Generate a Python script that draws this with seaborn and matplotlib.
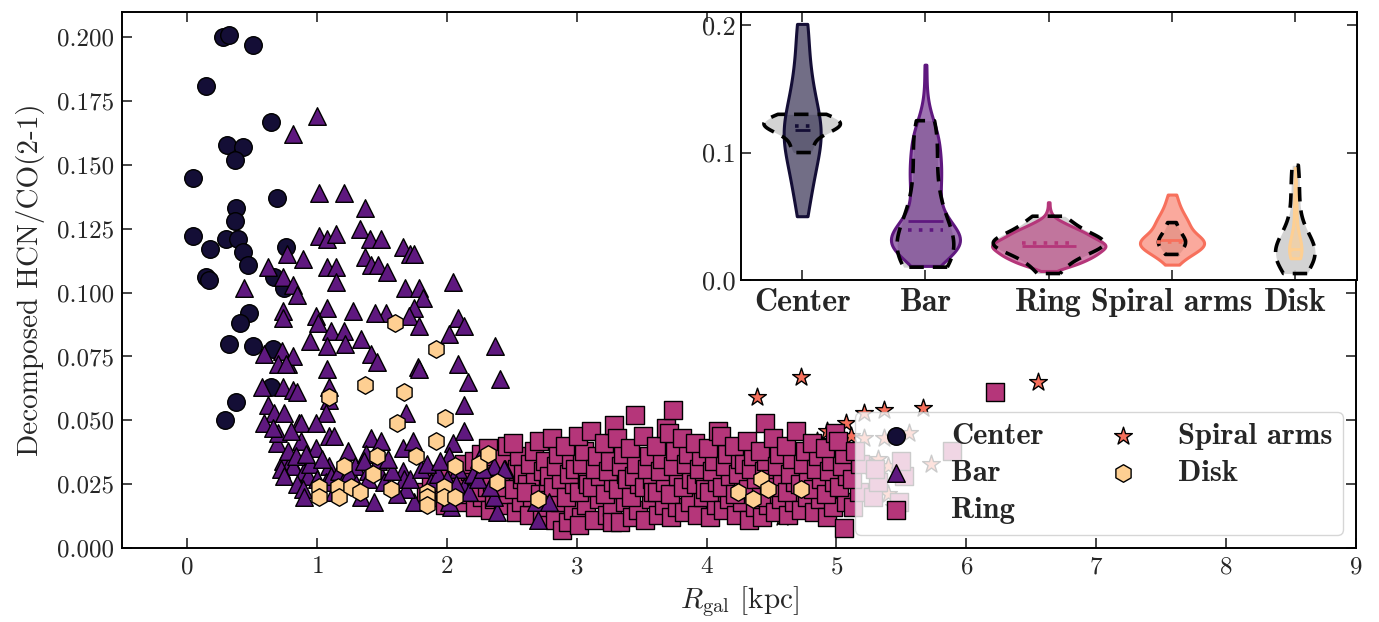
import numpy as np
import pandas as pd
import matplotlib
matplotlib.use("Agg")
import matplotlib.pyplot as plt
import seaborn as sns
from matplotlib.collections import PolyCollection
from matplotlib.font_manager import FontProperties
from matplotlib.colors import to_rgba

# ---------------- data ----------------
categories = ["Center", "Bar", "Ring", "Spiral arms", "Disk"]

center_pts = [
    (0.28, 0.200), (0.32, 0.201), (0.51, 0.197), (0.15, 0.181), (0.65, 0.167),
    (0.05, 0.145), (0.31, 0.158), (0.43, 0.157), (0.37, 0.152), (0.69, 0.137),
    (0.38, 0.133), (0.37, 0.128), (0.05, 0.122), (0.18, 0.117), (0.30, 0.121),
    (0.39, 0.121), (0.43, 0.116), (0.47, 0.111), (0.15, 0.106), (0.17, 0.105),
    (0.76, 0.118), (0.67, 0.106), (0.75, 0.102), (0.48, 0.092), (0.41, 0.088),
    (0.32, 0.080), (0.51, 0.079), (0.66, 0.078), (0.65, 0.063), (0.38, 0.057),
    (0.29, 0.050),
]

bar_pts = [
    (1.00, 0.169), (0.82, 0.162), (1.02, 0.139), (1.21, 0.139), (1.37, 0.133),
    (1.33, 0.125), (1.02, 0.122), (1.08, 0.121), (1.15, 0.123), (1.41, 0.121),
    (1.49, 0.121), (1.66, 0.118), (1.72, 0.115), (1.75, 0.115), (1.37, 0.114),
    (1.42, 0.111), (1.47, 0.111), (1.54, 0.108), (1.08, 0.110), (1.15, 0.110),
    (1.15, 0.104), (0.77, 0.115), (0.89, 0.113), (0.62, 0.110), (0.74, 0.106),
    (0.82, 0.103), (0.44, 0.102), (1.68, 0.102), (1.79, 0.102), (0.85, 0.099),
    (1.82, 0.098), (2.05, 0.104), (1.75, 0.094), (1.71, 0.091), (1.79, 0.087),
    (2.09, 0.090), (2.13, 0.087), (2.02, 0.084), (2.37, 0.079), (2.09, 0.072),
    (1.53, 0.092), (1.45, 0.092), (1.28, 0.093), (1.08, 0.094), (0.99, 0.091),
    (1.01, 0.088), (0.74, 0.093), (0.74, 0.090), (1.11, 0.085), (1.21, 0.085),
    (1.34, 0.082), (0.95, 0.081), (1.08, 0.079), (1.22, 0.080), (1.42, 0.076),
    (1.46, 0.073), (1.08, 0.070), (0.59, 0.076), (0.73, 0.077), (0.78, 0.072),
    (0.82, 0.075), (1.78, 0.071), (1.79, 0.070), (2.16, 0.065), (2.41, 0.066),
    (0.70, 0.072), (0.76, 0.072), (0.58, 0.063), (0.74, 0.063), (0.82, 0.062),
    (0.85, 0.061), (0.62, 0.056), (0.67, 0.053), (0.75, 0.053), (0.86, 0.049),
    (0.88, 0.049), (0.59, 0.049), (1.09, 0.063), (1.09, 0.058), (1.07, 0.053),
    (0.99, 0.049), (1.69, 0.053), (2.13, 0.056), (0.69, 0.041), (0.88, 0.042),
    (0.99, 0.039), (1.09, 0.044), (1.13, 0.044), (1.24, 0.038), (1.42, 0.043),
    (1.49, 0.042), (1.66, 0.039), (1.74, 0.042), (2.05, 0.041), (2.13, 0.046),
    (2.02, 0.036), (0.74, 0.034), (0.80, 0.034), (0.82, 0.032), (0.72, 0.031),
    (0.75, 0.028), (0.90, 0.030), (0.93, 0.028), (0.85, 0.025), (0.89, 0.023),
    (0.90, 0.020), (1.09, 0.032), (1.07, 0.026), (1.11, 0.028), (1.29, 0.032),
    (1.39, 0.030), (1.39, 0.027), (1.47, 0.031), (1.34, 0.020), (1.44, 0.018),
    (1.66, 0.030), (1.67, 0.027), (1.75, 0.018), (1.69, 0.023), (2.09, 0.031),
    (2.13, 0.024), (2.03, 0.016), (2.20, 0.029), (2.39, 0.014), (2.45, 0.031),
    (2.70, 0.011), (2.36, 0.027), (1.38, 0.037), (1.36, 0.034), (1.47, 0.034),
    (1.98, 0.023), (2.02, 0.018), (1.17, 0.030), (2.36, 0.032), (2.44, 0.031),
    (2.36, 0.020), (2.69, 0.018), (2.79, 0.018),
    (0.78, 0.038), (0.84, 0.036), (0.95, 0.033), (1.00, 0.027), (1.04, 0.035),
    (1.13, 0.022), (1.20, 0.026), (1.25, 0.029), (1.30, 0.025), (1.52, 0.026),
    (1.58, 0.030), (1.62, 0.021), (1.72, 0.027), (1.80, 0.031), (1.88, 0.026),
    (1.93, 0.029), (2.00, 0.027), (2.07, 0.025), (2.17, 0.022), (2.24, 0.027),
    (2.28, 0.031), (2.33, 0.024), (0.70, 0.045), (0.66, 0.047), (0.80, 0.046),
    (0.92, 0.037), (1.55, 0.035), (1.85, 0.033), (2.25, 0.035), (1.95, 0.034),
]

ring_pts = [
    (1.84, 0.022), (1.88, 0.027),
    (1.93, 0.020), (1.97, 0.025), (1.95, 0.029), (1.99, 0.017),
    (2.03, 0.019), (2.07, 0.024), (2.02, 0.028), (2.08, 0.031), (2.05, 0.022),
    (2.12, 0.018), (2.17, 0.023), (2.14, 0.026), (2.18, 0.030), (2.13, 0.033), (2.16, 0.021),
    (2.22, 0.016), (2.27, 0.020), (2.24, 0.025), (2.28, 0.029), (2.21, 0.034), (2.26, 0.037), (2.23, 0.022),
    (2.33, 0.015), (2.36, 0.019), (2.31, 0.024), (2.38, 0.028), (2.34, 0.032), (2.37, 0.036), (2.32, 0.039), (2.35, 0.026),
    (2.43, 0.017), (2.47, 0.021), (2.42, 0.027), (2.48, 0.030), (2.44, 0.035), (2.46, 0.040), (2.41, 0.024),
    (2.53, 0.014), (2.57, 0.018), (2.52, 0.023), (2.58, 0.027), (2.54, 0.031), (2.56, 0.036), (2.51, 0.041), (2.59, 0.029),
    (2.63, 0.013), (2.66, 0.020), (2.62, 0.025), (2.68, 0.028), (2.64, 0.033), (2.67, 0.038), (2.61, 0.022),
    (2.73, 0.012), (2.77, 0.016), (2.72, 0.021), (2.78, 0.026), (2.74, 0.030), (2.76, 0.034), (2.71, 0.042), (2.79, 0.028),
    (2.83, 0.011), (2.87, 0.018), (2.82, 0.024), (2.88, 0.027), (2.84, 0.032), (2.86, 0.037), (2.81, 0.043), (2.89, 0.007),
    (2.93, 0.010), (2.97, 0.015), (2.92, 0.020), (2.98, 0.025), (2.94, 0.029), (2.96, 0.035), (2.91, 0.040), (2.99, 0.031),
    (3.03, 0.012), (3.07, 0.017), (3.02, 0.022), (3.08, 0.027), (3.04, 0.033), (3.06, 0.038), (3.01, 0.044), (3.09, 0.025), (3.02, 0.009),
    (3.13, 0.011), (3.17, 0.019), (3.12, 0.024), (3.18, 0.028), (3.14, 0.031), (3.16, 0.036), (3.11, 0.046),
    (3.23, 0.013), (3.27, 0.016), (3.22, 0.021), (3.28, 0.026), (3.24, 0.030), (3.26, 0.034), (3.21, 0.041), (3.29, 0.048), (3.27, 0.010),
    (3.33, 0.010), (3.37, 0.018), (3.32, 0.023), (3.38, 0.029), (3.34, 0.032), (3.36, 0.037), (3.31, 0.043), (3.39, 0.027),
    (3.43, 0.012), (3.47, 0.015), (3.42, 0.020), (3.48, 0.025), (3.44, 0.028), (3.46, 0.033), (3.41, 0.039), (3.45, 0.052),
    (3.53, 0.011), (3.57, 0.019), (3.52, 0.024), (3.58, 0.027), (3.54, 0.031), (3.56, 0.036), (3.51, 0.044), (3.59, 0.022),
    (3.63, 0.013), (3.67, 0.017), (3.62, 0.022), (3.68, 0.026), (3.64, 0.030), (3.66, 0.035), (3.61, 0.040), (3.69, 0.047),
    (3.73, 0.012), (3.77, 0.016), (3.72, 0.021), (3.78, 0.028), (3.74, 0.032), (3.76, 0.038), (3.74, 0.054), (3.71, 0.045),
    (3.83, 0.014), (3.87, 0.018), (3.82, 0.024), (3.88, 0.027), (3.84, 0.033), (3.86, 0.037), (3.81, 0.043),
    (3.93, 0.013), (3.97, 0.020), (3.92, 0.025), (3.98, 0.029), (3.94, 0.031), (3.96, 0.036), (3.91, 0.041), (3.99, 0.023),
    (4.03, 0.012), (4.07, 0.017), (4.02, 0.022), (4.08, 0.026), (4.04, 0.030), (4.06, 0.034), (4.01, 0.039), (4.09, 0.046),
    (4.13, 0.015), (4.17, 0.019), (4.12, 0.024), (4.18, 0.028), (4.14, 0.032), (4.16, 0.037), (4.11, 0.044),
    (4.23, 0.013), (4.27, 0.018), (4.22, 0.021), (4.28, 0.026), (4.24, 0.029), (4.26, 0.035), (4.21, 0.040), (4.29, 0.033),
    (4.33, 0.011), (4.37, 0.016), (4.32, 0.023), (4.38, 0.027), (4.34, 0.031), (4.36, 0.036), (4.31, 0.042),
    (4.43, 0.012), (4.47, 0.017), (4.42, 0.020), (4.48, 0.025), (4.44, 0.030), (4.46, 0.034), (4.41, 0.038), (4.45, 0.049),
    (4.53, 0.014), (4.57, 0.019), (4.52, 0.024), (4.58, 0.028), (4.54, 0.032), (4.56, 0.037), (4.51, 0.043),
    (4.63, 0.013), (4.67, 0.018), (4.62, 0.022), (4.68, 0.026), (4.64, 0.029), (4.66, 0.035), (4.61, 0.040), (4.69, 0.046),
    (4.73, 0.015), (4.77, 0.020), (4.72, 0.025), (4.78, 0.028), (4.74, 0.033), (4.76, 0.038),
    (4.83, 0.014), (4.87, 0.019), (4.82, 0.023), (4.88, 0.027), (4.84, 0.031), (4.86, 0.036), (4.81, 0.041),
    (4.93, 0.012), (4.97, 0.016), (4.92, 0.021), (4.98, 0.026), (4.94, 0.030), (4.96, 0.034), (4.91, 0.039), (4.99, 0.045),
    (5.06, 0.008), (5.07, 0.018), (5.02, 0.024), (5.08, 0.028), (5.04, 0.032), (5.06, 0.037), (5.01, 0.042),
    (5.13, 0.016), (5.17, 0.022), (5.12, 0.027), (5.18, 0.033), (5.14, 0.038),
    (5.28, 0.020), (5.32, 0.026), (5.30, 0.031),
    (5.48, 0.018), (5.52, 0.028), (5.50, 0.034),
    (5.89, 0.038), (6.22, 0.061),
]

spiral_pts = [
    (4.39, 0.059), (4.73, 0.067), (4.50, 0.045), (4.93, 0.046), (5.07, 0.049),
    (5.11, 0.044), (5.37, 0.054), (5.21, 0.053), (5.67, 0.055), (6.55, 0.065),
    (4.85, 0.042), (5.00, 0.037), (4.66, 0.021), (5.03, 0.020), (5.15, 0.035),
    (5.21, 0.043), (5.37, 0.043), (5.56, 0.045), (5.32, 0.035), (5.27, 0.032),
    (5.40, 0.032), (5.73, 0.033), (5.40, 0.021), (5.44, 0.016),
    (4.45, 0.028), (4.55, 0.024), (4.62, 0.031), (4.78, 0.027), (4.88, 0.025),
    (4.95, 0.030), (5.05, 0.028), (4.70, 0.018), (4.58, 0.012), (4.82, 0.034),
    (5.10, 0.026), (4.98, 0.022), (4.90, 0.029), (4.52, 0.030), (4.75, 0.026),
    (5.12, 0.031), (4.60, 0.027), (4.85, 0.028),
]

disk_pts = [
    (1.60, 0.088), (1.92, 0.078), (1.37, 0.064), (1.67, 0.061), (1.09, 0.059),
    (1.62, 0.049), (1.99, 0.051), (1.92, 0.042), (1.46, 0.036), (1.76, 0.036),
    (1.21, 0.032), (1.43, 0.029), (1.02, 0.024), (1.02, 0.020), (1.16, 0.024),
    (1.17, 0.020), (1.26, 0.024), (1.33, 0.022), (1.57, 0.023), (1.85, 0.022),
    (1.85, 0.020), (1.85, 0.017), (1.98, 0.024), (1.98, 0.020), (2.06, 0.020),
    (2.06, 0.032), (2.25, 0.033), (2.32, 0.037), (2.39, 0.026), (2.70, 0.019),
    (4.42, 0.027), (4.47, 0.023), (4.24, 0.022), (4.36, 0.019), (4.73, 0.023),
]

# comparison distributions (grey dashed violins in the inset)
center_cmp = [0.100, 0.104, 0.110, 0.114, 0.117, 0.119, 0.120, 0.121, 0.122,
              0.123, 0.124, 0.126, 0.128, 0.130, 0.130]
bar_cmp = [0.010, 0.011, 0.012, 0.014, 0.016, 0.018, 0.020, 0.022, 0.024, 0.026,
           0.028, 0.030, 0.032, 0.035, 0.038, 0.041, 0.045, 0.050, 0.056, 0.062,
           0.068, 0.075, 0.082, 0.090, 0.098, 0.106, 0.113, 0.119, 0.123, 0.125]
ring_cmp = [0.005, 0.012, 0.017, 0.020, 0.023, 0.025, 0.027, 0.028, 0.029, 0.030,
            0.031, 0.033, 0.035, 0.038, 0.042, 0.046, 0.050]
spiral_cmp = [0.020, 0.024, 0.027, 0.029, 0.030, 0.032, 0.035, 0.039, 0.045]
disk_cmp = [0.005, 0.010, 0.014, 0.017, 0.019, 0.021, 0.022, 0.023, 0.024, 0.026,
            0.029, 0.034, 0.045, 0.060, 0.075, 0.090]

# ---------------- style ----------------
colors = {"Center": "#140e36", "Bar": "#5f187f", "Ring": "#b5367a",
          "Spiral arms": "#f7705c", "Disk": "#fecf92"}
markers = {"Center": "o", "Bar": "^", "Ring": "s", "Spiral arms": "*", "Disk": "h"}
sizes = {"Center": 160, "Bar": 160, "Ring": 170, "Spiral arms": 180, "Disk": 160}

sns.set_style("ticks")
plt.rcParams.update({
    "font.family": "serif", "font.serif": ["cmr10"], "mathtext.fontset": "cm",
    "axes.formatter.use_mathtext": True, "axes.unicode_minus": False,
    "xtick.direction": "in", "ytick.direction": "in",
    "xtick.top": True, "ytick.right": True,
    "xtick.major.size": 7, "ytick.major.size": 7,
    "xtick.major.width": 1.2, "ytick.major.width": 1.2,
    "axes.linewidth": 1.4, "axes.edgecolor": "black",
})
bold_leg = FontProperties(family="cmb10", size=22)
bold_tick = FontProperties(family="cmb10", size=23)

fig = plt.figure(figsize=(13.79, 6.22), dpi=100)
ax = fig.add_axes([0.0885, 0.119, 0.8948, 0.862])

pts = {"Center": center_pts, "Bar": bar_pts, "Ring": ring_pts,
       "Spiral arms": spiral_pts, "Disk": disk_pts}
handles = {}
for cat in ["Center", "Spiral arms", "Ring", "Bar", "Disk"]:
    arr = np.array(pts[cat])
    n0 = len(ax.collections)
    sns.scatterplot(x=arr[:, 0], y=arr[:, 1], ax=ax, marker=markers[cat],
                    s=sizes[cat], color=colors[cat], edgecolor="black",
                    linewidth=1.0, legend=False)
    handles[cat] = ax.collections[n0]

ax.set_xlim(-0.5, 9)
ax.set_ylim(0, 0.21)
ax.set_xticks(range(0, 10))
yt = [0, 0.025, 0.05, 0.075, 0.1, 0.125, 0.15, 0.175, 0.2]
ax.set_yticks(yt)
ax.set_yticklabels([f"{v:.3f}" for v in yt])
ax.tick_params(labelsize=18, pad=6)
ax.set_xlabel(r"$R_{\rm gal}$ [kpc]", fontsize=21, labelpad=4)
ax.set_ylabel("Decomposed HCN/CO(2-1)", fontsize=21, labelpad=8)

leg = ax.legend([handles[c] for c in categories], categories, ncol=2,
                loc="lower right", bbox_to_anchor=(0.9895, 0.024), borderaxespad=0,
                prop=bold_leg, framealpha=0.8, columnspacing=1.6, scatterpoints=1,
                handletextpad=0.8, labelspacing=0.32, borderpad=0.35)

# ---------------- inset violins ----------------
iax = fig.add_axes([0.537, 0.55, 0.447, 0.43])
main_widths = {"Center": 0.30, "Bar": 0.56, "Ring": 0.92, "Spiral arms": 0.52, "Disk": 0.10}
cmp_widths = {"Center": 0.62, "Bar": 0.46, "Ring": 0.90, "Spiral arms": 0.22, "Disk": 0.32}
cmp = {"Center": center_cmp, "Bar": bar_cmp, "Ring": ring_cmp,
       "Spiral arms": spiral_cmp, "Disk": disk_cmp}
line_half = {"Center": 0.06, "Bar": 0.14, "Ring": 0.22, "Spiral arms": 0.12, "Disk": 0.05}


def draw_violin(values, cat, width, color):
    df = pd.DataFrame({"region": [cat] * len(values), "value": values})
    n0 = len(iax.collections)
    sns.violinplot(data=df, x="region", y="value", order=categories, ax=iax,
                   color=color, width=width, density_norm="width", cut=0,
                   inner=None, saturation=1, linewidth=2)
    return iax.collections[n0:]


for i, cat in enumerate(categories):
    # grey comparison violin: fill below, dashed outline on top
    new = draw_violin(cmp[cat], cat, cmp_widths[cat], "lightgray")
    for coll in new:
        coll.set_facecolor(to_rgba("#cfcfcf", 0.9))
        coll.set_linewidth(0)
        coll.set_zorder(1)
        verts = [p.vertices for p in coll.get_paths()]
        iax.add_collection(PolyCollection(verts, facecolor="none", edgecolor="black",
                                          linestyle=(0, (4, 2.5)), linewidth=2.6, zorder=5))
    # coloured violin from scatter data
    vals = [p[1] for p in pts[cat]]
    new = draw_violin(vals, cat, main_widths[cat], colors[cat])
    for coll in new:
        coll.set_facecolor(to_rgba(colors[cat], 0.6))
        coll.set_edgecolor(colors[cat])
        coll.set_linewidth(2.2)
        coll.set_zorder(2)
    h = line_half[cat]
    iax.hlines(np.median(vals), i - h, i + h, colors=colors[cat], linewidth=2, zorder=4)
    iax.hlines(np.median(cmp[cat]), i - h, i + h, colors=colors[cat],
               linestyles=(0, (1, 2)), linewidth=2.6, zorder=6)

iax.set_xlim(-0.5, 4.5)
iax.set_ylim(0, 0.21)
iax.set_yticks([0, 0.1, 0.2])
iax.set_yticklabels(["0.0", "0.1", "0.2"])
iax.set_xlabel("")
iax.set_ylabel("")
iax.tick_params(axis="y", labelsize=19, right=True, direction="in")
iax.tick_params(axis="x", top=True, direction="in", pad=6)
for lbl in iax.get_xticklabels():
    lbl.set_fontproperties(bold_tick)
for s in iax.spines.values():
    s.set_visible(True)
    s.set_linewidth(1.4)

fig.savefig("out.png", dpi=100)
